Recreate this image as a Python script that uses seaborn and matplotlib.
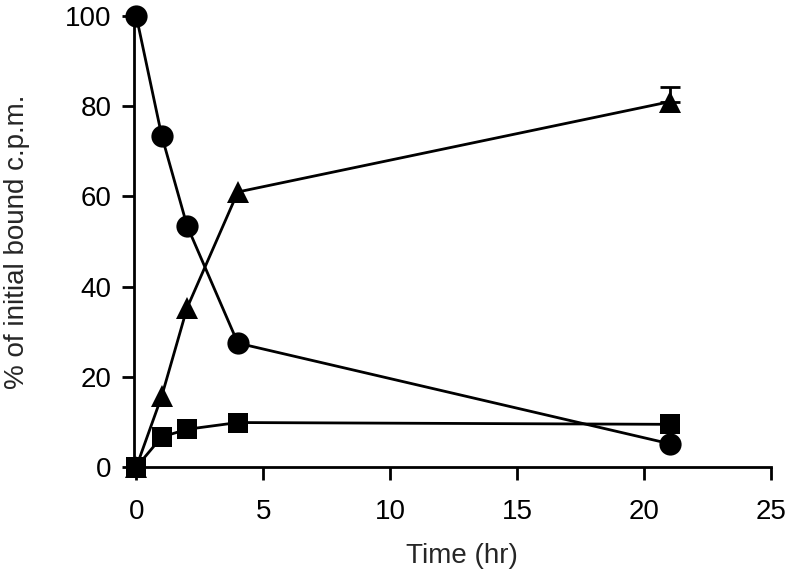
import numpy as np
import pandas as pd
import matplotlib
matplotlib.use("Agg")
import matplotlib.pyplot as plt
import seaborn as sns

# data
time_hr = [0, 1, 2, 4, 21]
circles = [100, 73.5, 53.5, 27.5, 5.2]
triangles = [0, 15.7, 35.3, 61, 81]
squares = [0, 6.7, 8.4, 9.9, 9.5]
tri_err = [0, 0, 0, 0, 3.3]

sns.set_theme(style="ticks")
plt.rcParams['font.family'] = ['Liberation Sans', 'DejaVu Sans']

fig = plt.figure(figsize=(7.96, 5.84), dpi=100)
ax = fig.add_axes([0.168, 0.2, 0.801, 0.7726])

df = pd.DataFrame({"t": time_hr, "circ": circles, "tri": triangles, "sq": squares, "err": tri_err})

# error bar only where an error was reported (upper side only)
e = df[df["err"] > 0]
ax.errorbar(e["t"], e["tri"], yerr=[np.zeros(len(e)), e["err"]], fmt="none",
            ecolor="black", elinewidth=2, capsize=7, capthick=2, zorder=2, clip_on=False)

for col, mk, ms in [("circ", "o", 16), ("tri", "^", 16), ("sq", "s", 14)]:
    sns.lineplot(data=df, x="t", y=col, ax=ax, color="black", linewidth=2,
                 marker=mk, markersize=ms, markeredgewidth=0, clip_on=False, zorder=3)

ax.set_xlim(-0.1, 25)
ax.set_ylim(0, 100)
ax.set_xticks([0, 5, 10, 15, 20, 25])
ax.set_yticks([0, 20, 40, 60, 80, 100])
ax.tick_params(axis="both", labelsize=20, width=2, length=9, color="black", labelcolor="black")
ax.tick_params(axis="x", pad=14)
ax.tick_params(axis="y", pad=7)
for s in ["left", "bottom"]:
    ax.spines[s].set_linewidth(2)
    ax.spines[s].set_color("black")
sns.despine(ax=ax)

ax.set_xlabel("Time (hr)", fontsize=20)
ax.set_ylabel("% of initial bound c.p.m.", fontsize=20)
ax.xaxis.set_label_coords(0.515, -0.168)
ax.yaxis.set_label_coords(-0.162, 0.5)

fig.savefig("out.png", dpi=100)
